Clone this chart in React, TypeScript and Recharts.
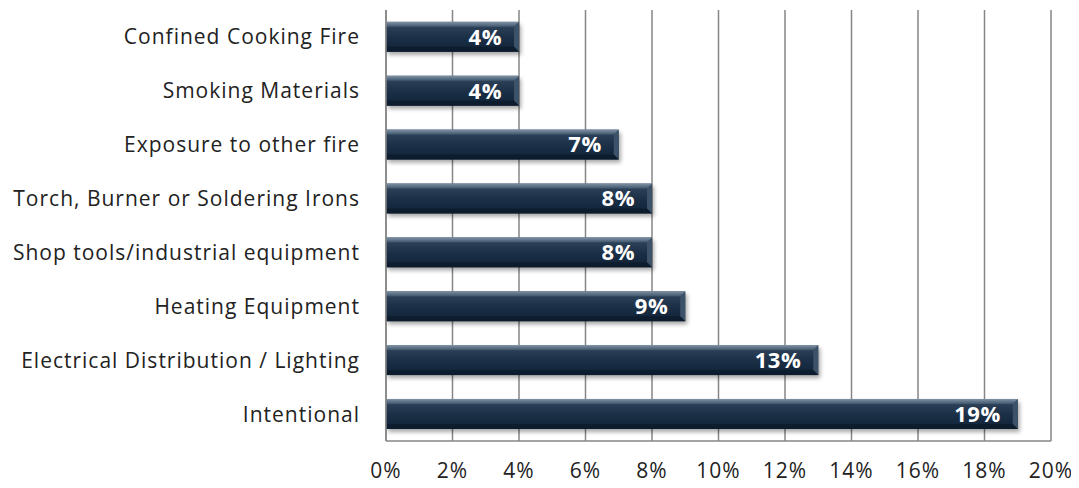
import React from 'react';
import { BarChart, Bar, XAxis, YAxis, CartesianGrid, LabelList } from 'recharts';

const categories = [
  'Confined Cooking Fire',
  'Smoking Materials',
  'Exposure to other fire',
  'Torch, Burner or Soldering Irons',
  'Shop tools/industrial equipment',
  'Heating Equipment',
  'Electrical Distribution / Lighting ',
  'Intentional',
];
const values = [4, 4, 7, 8, 8, 9, 13, 19];
const xTicks = [0, 2, 4, 6, 8, 10, 12, 14, 16, 18, 20];

const data = categories.map((c, i) => ({ name: c, value: values[i] }));

const FONT = '"Open Sans", Lato, sans-serif';

const BarShape = (props: any) => {
  const { x, y, width, height } = props;
  if (!width || width <= 0) return null;
  const b = 5;
  return (
    <g>
      <rect x={x + 2} y={y + 3} width={width} height={height} fill="#000" opacity={0.35} filter="url(#barShadow)" />
      <rect x={x} y={y} width={width} height={height} fill="url(#barGrad)" />
      <polygon
        points={`${x + width - b},${y + b} ${x + width},${y} ${x + width},${y + height} ${x + width - b},${y + height - b}`}
        fill="#3c5268"
      />
      <polygon
        points={`${x},${y} ${x + width},${y} ${x + width - b},${y + b} ${x},${y + b}`}
        fill="url(#bevelTop)"
      />
      <polygon
        points={`${x},${y + height} ${x + width},${y + height} ${x + width - b},${y + height - b} ${x},${y + height - b}`}
        fill="#0b1a2a"
        opacity={0.7}
      />
    </g>
  );
};

export default function App() {
  return (
    <div style={{ margin: '-8px 0 0 -8px', width: 1079, height: 488, overflow: 'hidden' }}>
      <BarChart
        width={1079}
        height={488}
        data={data}
        layout="vertical"
        margin={{ top: 10, right: 28, left: 0, bottom: 0 }}
        barCategoryGap="22%"
        style={{ fontFamily: FONT }}
      >
        <defs>
          <linearGradient id="barGrad" x1="0" y1="0" x2="0" y2="1">
            <stop offset="0" stopColor="#4b6177" />
            <stop offset="0.2" stopColor="#2a3f56" />
            <stop offset="0.55" stopColor="#1a2f46" />
            <stop offset="1" stopColor="#0f2136" />
          </linearGradient>
          <linearGradient id="bevelTop" x1="0" y1="0" x2="0" y2="1">
            <stop offset="0" stopColor="#8193a5" />
            <stop offset="1" stopColor="#3f566d" />
          </linearGradient>
          <filter id="barShadow" x="-10%" y="-50%" width="120%" height="200%">
            <feGaussianBlur stdDeviation="2" />
          </filter>
        </defs>
        <CartesianGrid horizontal={false} vertical={true} stroke="#868686" strokeWidth={1.5} />
        <XAxis
          type="number"
          domain={[0, 20]}
          ticks={xTicks}
          tickFormatter={(v: number) => `${v}%`}
          interval={0}
          axisLine={{ stroke: '#868686', strokeWidth: 1.5 }}
          tickLine={false}
          tickSize={0}
          tickMargin={22}
          height={47}
          tick={{ fill: '#222222', fontSize: 21, fontFamily: FONT, letterSpacing: 1 }}
        />
        <YAxis
          type="category"
          dataKey="name"
          width={386}
          axisLine={{ stroke: '#868686', strokeWidth: 1.5 }}
          tickLine={false}
          tickSize={0}
          tickMargin={26}
          interval={0}
          tick={{ fill: '#222222', fontSize: 21, fontFamily: FONT, letterSpacing: 1 }}
        />
        <Bar dataKey="value" isAnimationActive={false} shape={<BarShape />}>
          <LabelList
            dataKey="value"
            position="insideRight"
            offset={17}
            formatter={(v: number) => `${v}%`}
            style={{ fill: '#ffffff', fontWeight: 'bold', fontSize: 22, fontFamily: FONT, letterSpacing: 0.5 }}
          />
        </Bar>
      </BarChart>
    </div>
  );
}
